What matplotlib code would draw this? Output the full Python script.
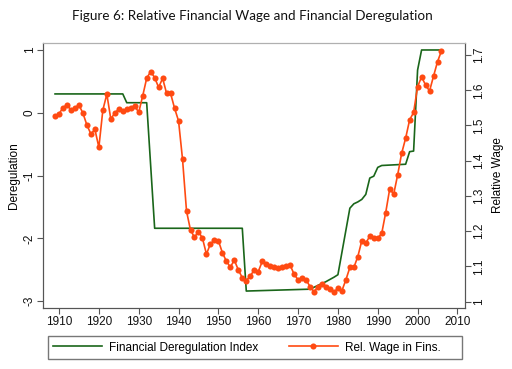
import matplotlib
matplotlib.use("Agg")
import matplotlib.pyplot as plt
from matplotlib.patches import Rectangle

# ---- data ----
dereg_years = [1909, 1926, 1927, 1932, 1934, 1956, 1957, 1973, 1977, 1979, 1980,
               1983, 1984, 1985, 1986, 1987, 1988, 1989, 1990, 1991, 1997, 1998,
               1999, 2000, 2001, 2006]
dereg_index = [0.30, 0.30, 0.16, 0.16, -1.84, -1.84, -2.84, -2.81, -2.69, -2.62, -2.58,
               -1.52, -1.45, -1.42, -1.38, -1.30, -1.04, -1.01, -0.87, -0.84, -0.82, -0.62,
               -0.61, 0.68, 1.00, 1.00]

wage_years = list(range(1909, 2007))
rel_wage = [1.527, 1.533, 1.551, 1.558, 1.544, 1.551, 1.558, 1.535, 1.501, 1.476,
            1.489, 1.438, 1.544, 1.589, 1.518, 1.536, 1.546, 1.542, 1.546, 1.551,
            1.556, 1.537, 1.584, 1.634, 1.653, 1.636, 1.608, 1.634, 1.591, 1.591,
            1.549, 1.513, 1.404, 1.257, 1.203, 1.183, 1.199, 1.180, 1.135, 1.164,
            1.175, 1.173, 1.139, 1.115, 1.098, 1.118, 1.090, 1.068, 1.060, 1.073,
            1.090, 1.085, 1.114, 1.106, 1.101, 1.099, 1.095, 1.098, 1.101, 1.104,
            1.078, 1.062, 1.066, 1.062, 1.043, 1.028, 1.043, 1.050, 1.043, 1.035,
            1.027, 1.038, 1.031, 1.062, 1.097, 1.097, 1.128, 1.173, 1.166, 1.186,
            1.180, 1.180, 1.194, 1.253, 1.320, 1.305, 1.360, 1.421, 1.464, 1.516,
            1.537, 1.610, 1.638, 1.615, 1.598, 1.640, 1.681, 1.712]

x_ticks = list(range(1910, 2011, 10))
left_ticks = [-3, -2, -1, 0, 1]
right_ticks = [1.0, 1.1, 1.2, 1.3, 1.4, 1.5, 1.6, 1.7]
right_ticklabels = ["1", "1.1", "1.2", "1.3", "1.4", "1.5", "1.6", "1.7"]

title = "Figure 6: Relative Financial Wage and Financial Deregulation"
label_dereg = "Financial Deregulation Index"
label_wage = "Rel. Wage in Fins."

# ---- style ----
plt.rcParams['font.family'] = ['Liberation Sans', 'DejaVu Sans']
GREEN = '#1a661a'
ORANGE = '#ff4a12'
AXC = '#555555'

W, H = 512, 369
fig = plt.figure(figsize=(W / 100, H / 100), dpi=100)
x0, x1, y0, y1 = 42.7, 465, 42.7, 308
ax = fig.add_axes([x0 / W, 1 - y1 / H, (x1 - x0) / W, (y1 - y0) / H])
ax2 = ax.twinx()

l1, = ax.plot(dereg_years, dereg_index, color=GREEN, lw=1.2, label=label_dereg)
l2, = ax2.plot(wage_years, rel_wage, color=ORANGE, lw=1.2, marker='o', ms=4.4,
               markeredgewidth=0, label=label_wage)

ax.set_xlim(1905.9, 2011.9)
ax.set_ylim(-3.11, 1.116)
ax2.set_ylim(0.982, 1.735)

ax.set_xticks(x_ticks)
ax.set_yticks(left_ticks)
ax.set_yticklabels([str(t) for t in left_ticks], rotation=90, va='center')
ax2.set_yticks(right_ticks)
ax2.set_yticklabels(right_ticklabels, rotation=90, va='center')

for a in (ax, ax2):
    a.tick_params(axis='both', labelsize=8.5, length=4, width=0.8, color=AXC,
                  labelcolor='#111111', pad=2)
    for s in a.spines.values():
        s.set_color(AXC)
        s.set_linewidth(0.8)
    a.spines['top'].set_color('#b0b0b0')
ax.tick_params(axis='y', pad=1)

ax.set_ylabel("Deregulation", fontsize=8.5, labelpad=3)
ax2.set_ylabel("Relative Wage", fontsize=8.5, labelpad=5, rotation=90)

fig.text(252.5 / W, 1 - 16 / H, title, ha='center', va='center',
         fontsize=9.7, family=['Lato', 'DejaVu Sans'], color='#111111')

# legend (frame drawn separately to match the wide box)
leg = fig.legend(handles=[l1, l2], loc='center left',
                 bbox_to_anchor=(47.7 / W, 1 - 347.5 / H),
                 ncol=2, fontsize=8.5, frameon=False,
                 handlelength=4.15, handletextpad=0.65, borderaxespad=0,
                 borderpad=0.42, columnspacing=2.55)
fig.add_artist(Rectangle((47.7 / W, 1 - 359 / H), 414 / W, 23.3 / H,
                         transform=fig.transFigure, fill=False,
                         edgecolor='#777777', linewidth=1.0))

fig.savefig("out.png", dpi=100)
